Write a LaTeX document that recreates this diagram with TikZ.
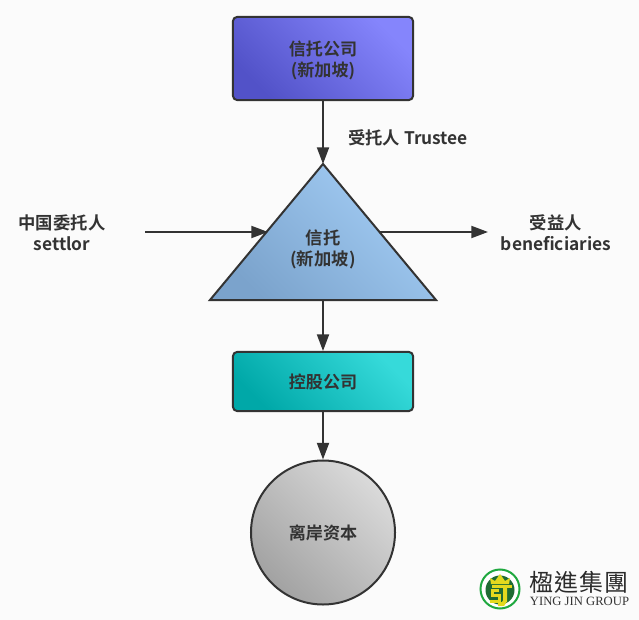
\documentclass[tikz,border=0pt]{standalone}
\usepackage{fontspec}
\setmainfont{Noto Sans CJK SC}[BoldFont={Noto Sans CJK SC Bold}]
\newfontfamily\logocjk{Noto Sans CJK TC}[BoldFont={Noto Sans CJK TC Bold}]
\newfontfamily\logolatin{Liberation Serif}
\usetikzlibrary{arrows.meta, positioning, calc}
\definecolor{cink}{HTML}{333333}
\definecolor{cpage}{HTML}{FBFBFB}
\definecolor{cgreen}{HTML}{1FA83F}
\definecolor{cdeep}{HTML}{1F6B33}
\definecolor{cgold}{HTML}{E4D91E}
\definecolor{cblue}{HTML}{5252C8}
\definecolor{cbluelight}{HTML}{8585FC}
\definecolor{cteal}{HTML}{00A8A8}
\definecolor{ctealight}{HTML}{36DADA}
\definecolor{csky}{HTML}{7BA3CC}
\definecolor{cskylight}{HTML}{A4CEF6}
\definecolor{cgrey}{HTML}{A2A2A2}
\definecolor{cgreylight}{HTML}{DADADA}
\tikzset{
  every picture/.style={font=\bfseries, line width=0.06cm},
  box/.style={draw=cink, rounded corners=0.12cm, align=center, minimum width=5.4cm, text=cink, text depth=0pt, font=\bfseries\fontsize{14.6}{18}\selectfont},
  arrow/.style={-{Triangle[length=0.5cm, width=0.36cm]}, draw=cink, line width=0.06cm},
  caption/.style={align=center, text=cink, font=\bfseries\fontsize{14.8}{18}\selectfont},
  diag/.style={bottom color=#1, top color=#1light, shading angle=-45},
}
\begin{document}
\begin{tikzpicture}[x=0.03cm, y=-0.03cm]
  \useasboundingbox[fill=cpage] (0,0) rectangle (639,620);
  % boxes
  \node[box, diag=cblue, minimum height=2.49cm] (company) at (323,58.5) {信托公司\\(新加坡)};
  \node[box, bottom color=cteal, top color=ctealight, shading angle=-45, minimum height=1.77cm] (holding) at (323,381.5) {控股公司};
  \node[box, circle, diag=cgrey, minimum width=4.32cm, inner sep=0pt] (capital) at (323,532.5) {离岸资本};
  % triangle
  \coordinate (apex) at (323,164);
  \coordinate (left) at (210,300);
  \coordinate (right) at (436,300);
  \coordinate (base) at (323,300);
  \draw[draw=cink, line join=miter, diag=csky] (apex) -- (right) -- (left) -- cycle;
  \node[caption] (trust) at (323,249) {信托\\(新加坡)};
  % side labels
  \node[caption] (trustee) at (408,138) {受托人 Trustee};
  \node[caption] (settlor) at (62,232.5) {中国委托人\\settlor};
  \node[caption] (beneficiaries) at (556,232.5) {受益人\\beneficiaries};
  \coordinate (inStart) at (145,232);
  \coordinate (inEnd) at (268,232);
  \coordinate (outStart) at (380,232);
  \coordinate (outEnd) at (488,232);
  \draw[arrow] (company) -- (apex);
  \draw[arrow] (inStart) -- (inEnd);
  \draw[arrow] (outStart) -- (outEnd);
  \draw[arrow] (base) -- (holding);
  \draw[arrow] (holding) -- (capital);
  % logo
  \fill[white] (500,589) circle (20);
  \draw[cgreen, line width=0.06cm] (500,589) circle (19.5);
  \fill[cdeep] (500,590) circle (14.5);
  \fill[cgold] (491,584) -- (490,578) -- (495,581) -- (500,574) -- (505,581) -- (510,578) -- (509,584) -- cycle;
  \draw[cgold, line width=0.09cm] (512,586.5) -- (492,586.5);
  \draw[cgold, line width=0.09cm] (499,590) -- (492,590) -- (492,595) -- (499,595) -- (499,601) -- (490,601);
  \draw[cgold, line width=0.12cm] (505,587) -- (505,601) -- (503,604) -- (498,604);
  \node[inner sep=0pt, text=cink!85!black, font=\logocjk\fontsize{20.5}{21}\selectfont] (logoName) at (579,582) {楹\hspace{0.03cm}進\hspace{0.03cm}集\hspace{0.03cm}團};
  \node[inner sep=0pt, text=cink, font=\logolatin\fontsize{10.8}{11}\selectfont] (logoGroup) at (579.5,601) {YING JIN GROUP};
\end{tikzpicture}
\end{document}
